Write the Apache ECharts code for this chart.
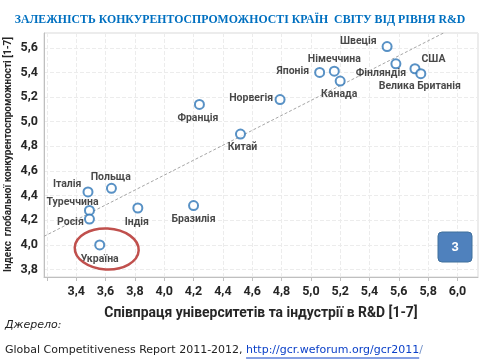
<!DOCTYPE html>
<html><head><meta charset="utf-8">
<script src="https://cdn.jsdelivr.net/npm/echarts@6/dist/echarts.min.js"></script>
<style>html,body{margin:0;padding:0;background:#fff}#c{width:480px;height:360px}</style>
</head><body><div id="c"></div>
<script>
const countries = ['Швеція','США','Велика Британія','Фінляндія','Німеччина','Японія','Канада','Норвегія','Китай','Франція','Польща','Італія','Туреччина','Росія','Індія','Бразилія','Україна'];
const cooperation = [5.52,5.71,5.75,5.58,5.16,5.06,5.20,4.79,4.52,4.24,3.64,3.48,3.49,3.49,3.82,4.20,3.56];
const competitiveness = [5.61,5.43,5.39,5.47,5.41,5.40,5.33,5.18,4.90,5.14,4.46,4.43,4.28,4.21,4.30,4.32,4.00];
const trendX = [3.18, 5.905];
const trendY = [4.07, 5.72];
const xTickValues = [3.4,3.6,3.8,4.0,4.2,4.4,4.6,4.8,5.0,5.2,5.4,5.6,5.8,6.0];
const xTickLabels = ['3,4','3,6','3,8','4,0','4,2','4,4','4,6','4,8','5,0','5,2','5,4','5,6','5,8','6,0'];
const yTickValues = [3.8,4.0,4.2,4.4,4.6,4.8,5.0,5.2,5.4,5.6];
const yTickLabels = ['3,8','4,0','4,2','4,4','4,6','4,8','5,0','5,2','5,4','5,6'];
const yAxisTitle = 'Індекс  глобальної конкурентоспроможності [1-7]';

// label placement (style, not data)
const labelLayout = {
  'Швеція':['left',0,-5], 'США':['right',-4,-9], 'Велика Британія':['bottom',-1,-3],
  'Фінляндія':['bottom',-15,-6.5], 'Німеччина':['top',0,4], 'Японія':['left',0,-1.4],
  'Канада':['bottom',-1,-3], 'Норвегія':['left',3.5,-1], 'Китай':['bottom',2,-2.5],
  'Франція':['bottom',-1.5,-2], 'Польща':['top',-0.7,5], 'Італія':['left',4,-8],
  'Туреччина':['top',-17,7.5], 'Росія':['left',4.8,3.6], 'Індія':['bottom',-1,-2],
  'Бразилія':['bottom',0,-2], 'Україна':['bottom',0,-2]
};

const FONT = 'Roboto, "DejaVu Sans Condensed", sans-serif';
const chart = echarts.init(document.getElementById('c'));

function lookup(vals, labels, v){
  for (let i=0;i<vals.length;i++) if (Math.abs(vals[i]-v)<1e-6) return labels[i];
  return '';
}

const points = countries.map((n,i)=>{
  const L = labelLayout[n];
  return {name:n, value:[cooperation[i], competitiveness[i]],
    label:{position:L[0], offset:[L[1],L[2]]}};
});

chart.setOption({
  animation:false,
  title:{text:'ЗАЛЕЖНІСТЬ КОНКУРЕНТОСПРОМОЖНОСТІ КРАЇН  СВІТУ ВІД РІВНЯ R&D', left:'center', top:9,
    textStyle:{fontFamily:'"Liberation Serif",serif', fontSize:11.8, fontWeight:'bold', color:'#0070c0'}},
  grid:{left:44, right:2, top:33, bottom:83, show:true, borderColor:'#d9d9d9', borderWidth:1,
    containLabel:false, outerBoundsMode:'none'},
  xAxis:{type:'value', min:3.18, max:6.14, splitNumber:15,
    name:'Співпраця університетів та індустрії в R&D [1-7]', nameLocation:'middle', nameGap:30,
    nameTextStyle:{fontFamily:FONT, fontSize:13.9, fontWeight:'bold', color:'#262626'},
    axisLine:{show:true, lineStyle:{color:'#bfbfbf'}},
    axisTick:{show:true, length:4, lineStyle:{color:'#bfbfbf'}},
    axisLabel:{margin:8, fontFamily:FONT, fontSize:12.5, fontWeight:'bold', color:'#262626',
      showMinLabel:false, showMaxLabel:false,
      formatter:v=>lookup(xTickValues,xTickLabels,v)},
    splitLine:{show:true, lineStyle:{color:'#ececec', type:'dashed'}}},
  yAxis:{type:'value', min:3.74, max:5.72, splitNumber:10,
    axisLine:{show:true, lineStyle:{color:'#bfbfbf'}},
    axisTick:{show:false},
    axisLabel:{margin:6, fontFamily:FONT, fontSize:12.5, fontWeight:'bold', color:'#262626',
      showMinLabel:false, showMaxLabel:false,
      formatter:v=>lookup(yTickValues,yTickLabels,v)},
    splitLine:{show:true, lineStyle:{color:'#ececec', type:'dashed'}}},
  series:[
    {type:'line', data:trendX.map((x,i)=>[x,trendY[i]]), symbol:'none', silent:true, z:1,
      lineStyle:{color:'#a6a6a6', width:1, type:[3,2]}},
    {type:'scatter', data:points, symbol:'emptyCircle', symbolSize:9, z:3,
      itemStyle:{color:'#2e75b6', borderColor:'#2e75b6', borderWidth:1.5},
      label:{show:true, formatter:'{b}', fontFamily:FONT, fontSize:10.5, fontWeight:'bold', color:'#1a1a1a', distance:5}}
  ]
});

const ui = countries.indexOf('Україна');
const up = chart.convertToPixel({gridIndex:0}, [cooperation[ui], competitiveness[ui]]);

const ctx = document.createElement('canvas').getContext('2d');
const yFont = 'bold 11.5px Roboto';
ctx.font = yFont;
const yTitleScale = 235 / ctx.measureText(yAxisTitle).width;

const footFont = '11px "DejaVu Sans"';
ctx.font = footFont;
const partA = 'Global Competitiveness Report 2011-2012, ';
const partB = 'http://gcr.weforum.org/gcr2011';
const wA = ctx.measureText(partA).width, wB = ctx.measureText(partB).width;
const fx = 5, fy = 345;

chart.setOption({graphic:[
  {type:'text', x:8.5, y:154.5, rotation:Math.PI/2, scaleX:yTitleScale,
    style:{text:yAxisTitle, fill:'#262626', font:yFont, align:'center', verticalAlign:'middle'}},
  {type:'ellipse', shape:{cx:up[0]+7, cy:up[1]+4, rx:32, ry:20.5}, rotation:-0.05, originX:up[0]+7, originY:up[1]+4,
    style:{fill:'none', stroke:'#c0504d', lineWidth:2.5}, z:10},
  {type:'rect', shape:{x:438, y:232, width:34, height:30, r:4},
    style:{fill:'#4f81bd', stroke:'#41719c', lineWidth:1}, z:10},
  {type:'text', x:455, y:247, style:{text:'3', fill:'#fff', font:'bold 13px "Liberation Sans"', align:'center', verticalAlign:'middle'}, z:11},
  {type:'text', x:fx, y:320, style:{text:'Джерело:', fill:'#222', font:'italic 11px "DejaVu Sans"'}},
  {type:'text', x:fx, y:fy, style:{text:partA, fill:'#222', font:footFont}},
  {type:'text', x:fx+wA, y:fy, style:{text:partB, fill:'#0b40c8', font:footFont}},
  {type:'text', x:fx+wA+wB, y:fy, style:{text:'/', fill:'#6f8fc8', font:footFont}},
  {type:'line', shape:{x1:fx+wA, y1:fy+13, x2:fx+wA+wB, y2:fy+13}, style:{stroke:'#0b40c8', lineWidth:1}}
]});
</script></body></html>
